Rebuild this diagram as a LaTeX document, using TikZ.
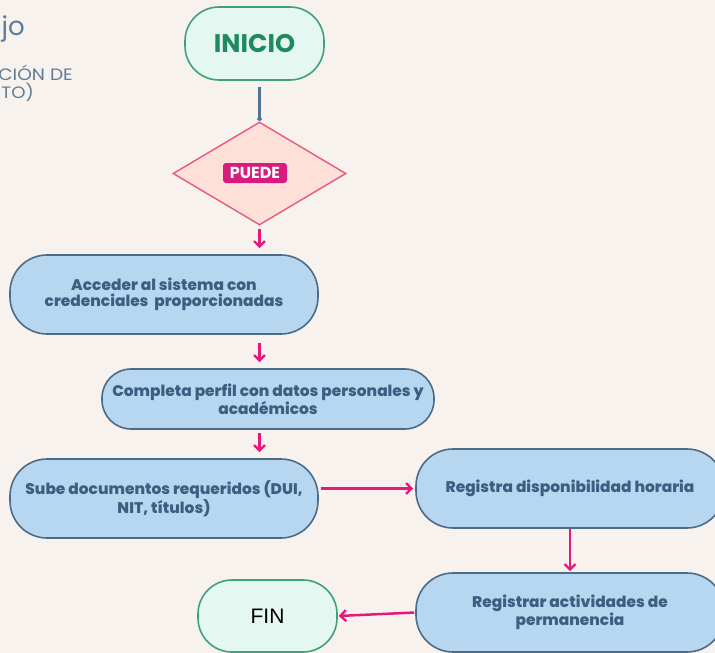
\documentclass[tikz,border=0pt]{standalone}
\usepackage{fontspec}
\setmainfont{Poppins}
\newfontfamily\heavyfont{Poppins ExtraBold}
\newfontfamily\finfont{Liberation Sans}
\usetikzlibrary{shapes.geometric,arrows.meta,calc}

\definecolor{bgpaper}{HTML}{F7F2EE}
\definecolor{stepfill}{HTML}{B7D6EF}
\definecolor{stepline}{HTML}{4D6B85}
\definecolor{steptext}{HTML}{3D5E80}
\definecolor{termfill}{HTML}{E4F7F0}
\definecolor{termline}{HTML}{40A07B}
\definecolor{termtext}{HTML}{1E8A5E}
\definecolor{flowpink}{HTML}{E6197A}
\definecolor{diafill}{HTML}{FDE1D8}
\definecolor{dialine}{HTML}{E8587F}
\definecolor{tagfill}{HTML}{D81B7F}
\definecolor{slate}{HTML}{4F7390}
\definecolor{titletext}{HTML}{5D7C98}

\tikzset{
  stepbox/.style={draw=stepline, line width=1.6pt, fill=stepfill,
    rounded corners=37pt, minimum width=308pt, minimum height=79pt,
    inner sep=0pt, align=center, text=steptext,
    font=\fontsize{15.4}{16.5}\selectfont\heavyfont},
  termbox/.style={draw=termline, line width=1.6pt, fill=termfill,
    rounded corners=34pt, inner sep=0pt},
  decision/.style={diamond, draw=dialine, line width=1.4pt, fill=diafill,
    minimum width=173pt, minimum height=103pt, inner sep=0pt},
  tag/.style={fill=tagfill, rounded corners=3pt, text=white,
    minimum width=64pt, minimum height=20pt, inner sep=0pt,
    font=\fontsize{16}{16}\selectfont\bfseries},
  flow/.style={draw=flowpink, line width=2.5pt,
    -{Straight Barb[length=5.5pt,width=11pt,line width=2.3pt]}},
  titlepart/.style={text=titletext, inner sep=0pt, anchor=base east}
}

\begin{document}
\begin{tikzpicture}[x=1pt, y=-1pt]
  \useasboundingbox (0,0) rectangle (715,653);
  \fill[bgpaper] (0,0) rectangle (715,653);
  \clip (0,0) rectangle (715,653);

  % cut-off heading at the left edge
  \node[titlepart, font=\fontsize{26}{26}\selectfont] (head) at (25,35) {jo};
  \node[titlepart, font=\fontsize{16.5}{16.5}\selectfont] (sub1) at (73,80) {\scalebox{1.13}[1]{CIÓN DE}};
  \node[titlepart, font=\fontsize{16.5}{16.5}\selectfont] (sub2) at (34,98) {\scalebox{1.1}[1]{TO)}};

  % terminals
  \node[termbox, minimum width=139pt, minimum height=73pt, text=termtext,
        font=\fontsize{25.5}{25.5}\selectfont\bfseries] (inicio) at (254.5,43.5) {INICIO};
  \node[termbox, minimum width=139pt, minimum height=72pt, text=black,
        font=\fontsize{21}{21}\selectfont\finfont] (fin) at (267.5,616) {FIN};

  % decision
  \node[decision] (dia) at (259.5,173.5) {};
  \node[tag] (puede) at (255,173) {PUEDE};

  % process steps
  \node[stepbox] (b1) at (164,294.5) {Acceder al sistema con\\credenciales\ \ proporcionadas};
  \node[stepbox, minimum width=332pt, minimum height=60pt, rounded corners=29pt]
        (b2) at (268,399) {Completa perfil con datos personales y\\académicos};
  \node[stepbox] (b3) at (164,498.5) {Sube documentos requeridos (DUI,\\NIT, títulos)};
  \node[stepbox] (b4) at (570,488.5) {Registra disponibilidad horaria};
  \node[stepbox] (b5) at (570,612.5) {Registrar actividades de\\permanencia};

  % connectors
  \draw[slate, line width=3pt, shorten <=6pt,
        -{Straight Barb[length=2pt,width=5pt,line width=1pt]}]
        (inicio.south -| dia.north) -- (dia.north);
  \draw[flow, shorten <=3pt, shorten >=6pt] (dia.south) -- (b1.north -| dia.south);
  \draw[flow, shorten <=8pt, shorten >=6pt] (b1.south -| dia.south) -- (b2.north -| dia.south);
  \draw[flow, shorten <=3pt, shorten >=6pt] (b2.south -| dia.south) -- (b3.north -| dia.south);
  \draw[flow, shorten <=2pt, shorten >=2pt] (b4.west -| b3.east) -- (b4.west);
  \draw[flow, shorten >=1pt] (b4.south) -- (b5.north);
  \draw[flow, shorten <=1pt, shorten >=1pt] (b5.west) -- (fin.east);
\end{tikzpicture}
\end{document}
